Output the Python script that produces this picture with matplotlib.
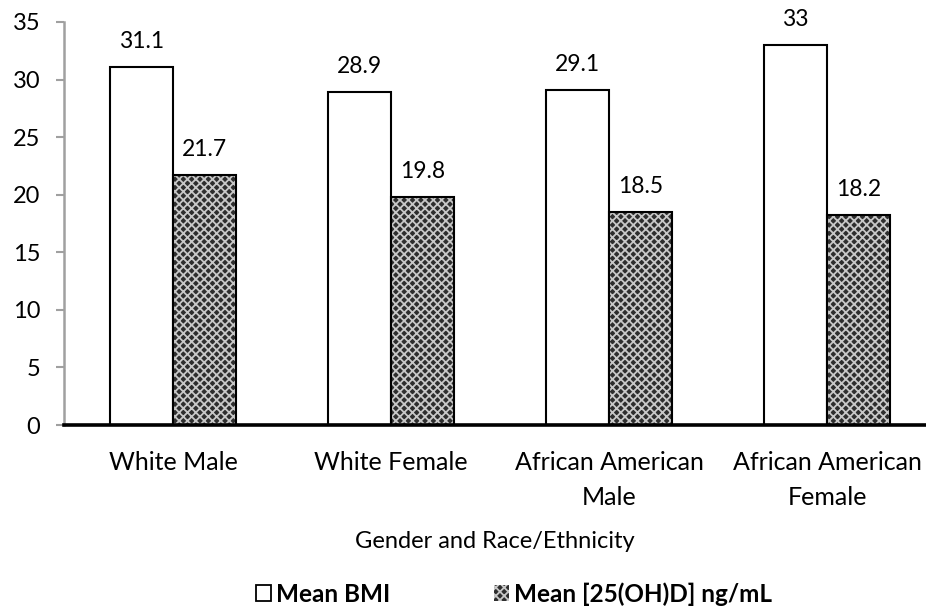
import numpy as np
import matplotlib
matplotlib.use('Agg')
import matplotlib.pyplot as plt
from matplotlib.patches import Patch

categories = ['White Male', 'White Female', 'African American\nMale', 'African American\nFemale']
bmi = [31.1, 28.9, 29.1, 33]
vitd = [21.7, 19.8, 18.5, 18.2]
bmi_labels = ['31.1', '28.9', '29.1', '33']
vitd_labels = ['21.7', '19.8', '18.5', '18.2']

plt.rcParams['font.family'] = ['Lato', 'DejaVu Sans']
plt.rcParams['hatch.linewidth'] = 1.3

fig = plt.figure(figsize=(9.26, 6.09), dpi=100)
ax = fig.add_axes([64 / 926, 1 - 425 / 609, 1 - 64 / 926, (425 - 22) / 609])

x = np.arange(len(categories))
w = 0.289

ax.bar(x - w / 2, bmi, w, facecolor='white', edgecolor='black', linewidth=1.5, zorder=2)
# hatched fill, then a black outline on top
ax.bar(x + w / 2, vitd, w, facecolor='#2e2e2e', edgecolor='#c8c8c8', hatch='xxxx', linewidth=0, zorder=2)
ax.bar(x + w / 2, vitd, w, facecolor='none', edgecolor='black', linewidth=1.5, zorder=3)

for xi, v, s in zip(x - w / 2, bmi, bmi_labels):
    ax.annotate(s, (xi, v), xytext=(0, 11), textcoords='offset points',
                ha='center', va='bottom', fontsize=16.5)
for xi, v, s in zip(x + w / 2, vitd, vitd_labels):
    ax.annotate(s, (xi, v), xytext=(0, 11), textcoords='offset points',
                ha='center', va='bottom', fontsize=16.5)

ax.set_xlim(-0.5, -0.5 + 862 / 218)
ax.set_ylim(0, 35)
ax.set_yticks(range(0, 36, 5))
ax.set_xticks(x)
ax.set_xticklabels(categories, fontsize=18, linespacing=1.6)
ax.tick_params(axis='x', length=0, pad=19)
ax.tick_params(axis='y', length=6, width=1.5, color='#a0a0a0', labelsize=17, pad=11)

for s in ['top', 'right']:
    ax.spines[s].set_visible(False)
ax.spines['left'].set_color('#a0a0a0')
ax.spines['left'].set_linewidth(1.8)
ax.spines['bottom'].set_color('black')
ax.spines['bottom'].set_linewidth(2.6)
ax.spines['bottom'].set_zorder(4)

ax.set_xlabel('Gender and Race/Ethnicity', fontsize=17, labelpad=16)

handles = [
    Patch(facecolor='white', edgecolor='black', linewidth=1.3, label='Mean BMI'),
    Patch(facecolor='#2e2e2e', edgecolor='#c8c8c8', hatch='xxxx', linewidth=0,
          label='Mean [25(OH)D] ng/mL'),
]
leg = fig.legend(handles=handles, loc='center', bbox_to_anchor=(514 / 926, 1 - 594 / 609),
                 ncol=2, frameon=False, handlelength=0.62, handleheight=0.62,
                 handletextpad=0.2, columnspacing=4.3,
                 prop={'size': 17.5, 'weight': 'bold'})

fig.savefig('out.png', dpi=100)
